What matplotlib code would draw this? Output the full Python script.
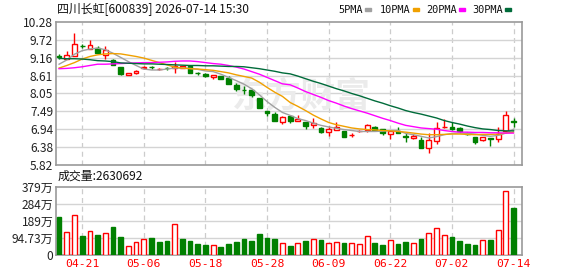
import numpy as np
import matplotlib
matplotlib.use("Agg")
import matplotlib.pyplot as plt

plt.rcParams['font.family'] = ['Noto Sans CJK SC', 'DejaVu Sans']

# ---- data ----
dates = ["04-21", "05-06", "05-18", "05-28", "06-09", "06-22", "07-02", "07-14"]
date_idx = [3, 11, 19, 27, 35, 43, 51, 59]

opens = [9.20, 9.12, 9.23, 9.54, 9.44, 9.47, 9.26, 9.08, 8.88, 8.64,
         8.70, 8.85, 8.87, 8.80, 8.85, 8.83, 8.84, 8.91, 8.69, 8.66,
         8.56, 8.60, 8.54, 8.32, 8.17, 8.16, 7.91, 7.52, 7.41, 7.17,
         7.34, 7.21, 7.17, 7.06, 6.99, 6.84, 6.93, 6.89, 6.76, 6.88,
         6.92, 7.01, 6.95, 6.79, 6.87, 6.74, 6.68, 6.62, 6.36, 6.59,
         7.00, 7.02, 6.99, 6.81, 6.71, 6.60, 6.65, 6.64, 6.90, 7.20]
closes = [9.19, 9.25, 9.58, 9.52, 9.56, 9.32, 9.39, 8.93, 8.66, 8.68,
          8.75, 8.86, 8.86, 8.81, 8.84, 8.91, 8.89, 8.70, 8.68, 8.58,
          8.63, 8.50, 8.34, 8.19, 8.15, 7.99, 7.60, 7.45, 7.21, 7.33,
          7.21, 7.27, 7.04, 7.13, 6.84, 6.95, 7.01, 6.70, 6.77, 6.89,
          7.08, 6.93, 6.82, 6.88, 6.82, 6.70, 6.74, 6.36, 6.60, 6.97,
          7.01, 6.95, 6.89, 6.80, 6.55, 6.70, 6.64, 6.79, 7.37, 7.18]
highs = [9.27, 9.37, 9.92, 9.59, 9.70, 9.53, 9.53, 9.11, 8.88, 8.70,
         8.79, 8.90, 8.91, 8.84, 8.88, 9.04, 8.90, 8.93, 8.72, 8.68,
         8.64, 8.60, 8.60, 8.37, 8.27, 8.16, 7.91, 7.52, 7.46, 7.36,
         7.39, 7.39, 7.18, 7.29, 7.00, 7.03, 7.15, 6.89, 6.81, 6.93,
         7.11, 7.03, 6.96, 6.88, 7.01, 6.82, 6.78, 6.70, 6.82, 7.15,
         7.26, 7.15, 7.01, 6.85, 6.71, 6.71, 6.66, 7.01, 7.51, 7.29]
lows = [9.12, 9.12, 9.22, 9.46, 9.44, 9.32, 9.12, 8.93, 8.63, 8.62,
        8.67, 8.82, 8.80, 8.77, 8.77, 8.68, 8.83, 8.69, 8.64, 8.57,
        8.50, 8.50, 8.34, 8.13, 8.04, 7.94, 7.60, 7.34, 7.21, 7.10,
        7.12, 7.21, 6.96, 6.98, 6.81, 6.72, 6.91, 6.70, 6.70, 6.85,
        6.84, 6.91, 6.77, 6.64, 6.81, 6.55, 6.65, 6.36, 6.21, 6.49,
        6.98, 6.93, 6.82, 6.75, 6.49, 6.59, 6.42, 6.53, 6.88, 7.01]

ma5 = [8.96, 9.09, 9.27, 9.38, 9.43, 9.46, 9.41, 9.30, 9.17, 9.04,
       8.92, 8.81, 8.78, 8.78, 8.81, 8.84, 8.84, 8.83, 8.80, 8.75,
       8.73, 8.65, 8.55, 8.45, 8.34, 8.20, 8.01, 7.80, 7.62, 7.46,
       7.37, 7.27, 7.21, 7.13, 7.06, 7.01, 6.97, 6.93, 6.90, 6.87,
       6.87, 6.87, 6.88, 6.90, 6.90, 6.81, 6.77, 6.72, 6.67, 6.71,
       6.77, 6.81, 6.82, 6.81, 6.79, 6.75, 6.72, 6.75, 6.82, 6.94]
ma10 = [8.84, 8.92, 9.01, 9.12, 9.20, 9.25, 9.28, 9.29, 9.28, 9.24,
        9.20, 9.15, 9.08, 9.01, 8.94, 8.87, 8.84, 8.82, 8.81, 8.79,
        8.77, 8.73, 8.69, 8.63, 8.58, 8.53, 8.40, 8.24, 8.09, 7.96,
        7.77, 7.65, 7.52, 7.38, 7.26, 7.15, 7.08, 7.03, 6.98, 6.95,
        6.93, 6.92, 6.90, 6.89, 6.87, 6.85, 6.82, 6.79, 6.77, 6.77,
        6.78, 6.79, 6.79, 6.78, 6.77, 6.78, 6.78, 6.79, 6.82, 6.85]
ma20 = [8.82, 8.83, 8.85, 8.88, 8.92, 8.96, 8.96, 8.97, 8.98, 8.99,
        9.00, 9.01, 9.01, 9.02, 9.03, 9.05, 9.06, 9.06, 9.04, 9.01,
        8.98, 8.96, 8.92, 8.87, 8.81, 8.73, 8.65, 8.55, 8.45, 8.35,
        8.32, 8.22, 8.11, 8.02, 7.93, 7.83, 7.75, 7.66, 7.58, 7.51,
        7.44, 7.36, 7.28, 7.21, 7.13, 7.06, 7.02, 6.98, 6.96, 6.94,
        6.90, 6.87, 6.85, 6.85, 6.84, 6.84, 6.83, 6.83, 6.82, 6.82]
ma30 = [9.14, 9.13, 9.13, 9.12, 9.10, 9.07, 9.06, 9.04, 9.00, 8.99,
        8.98, 8.97, 8.97, 8.96, 8.95, 8.94, 8.93, 8.92, 8.92, 8.91,
        8.91, 8.90, 8.89, 8.89, 8.88, 8.85, 8.82, 8.78, 8.74, 8.69,
        8.66, 8.59, 8.51, 8.43, 8.36, 8.28, 8.20, 8.13, 8.05, 7.98,
        7.90, 7.82, 7.75, 7.67, 7.60, 7.52, 7.46, 7.41, 7.35, 7.29,
        7.21, 7.15, 7.10, 7.04, 6.99, 6.95, 6.93, 6.90, 6.89, 6.89]

# volume in 万 (10k shares); colour follows close vs previous close
volume = [212, 128, 222, 105, 133, 111, 122, 155, 100, 50,
          72, 89, 94, 74, 79, 172, 89, 79, 63, 55,
          55, 44, 63, 74, 89, 79, 116, 96, 89, 65,
          50, 67, 79, 89, 83, 67, 72, 67, 67, 61,
          105, 67, 55, 83, 61, 72, 67, 89, 122, 150,
          109, 100, 78, 61, 55, 83, 83, 139, 353, 263.07]
vol_up = "GRRGRGRGGRRRGGGRGGGGRGGGGGGGGRGRGRGRRGRRRGGRGGRGRRRGGGGRGRRG"

price_ticks = [5.82, 6.3775, 6.935, 7.4925, 8.05, 8.6075, 9.165, 9.7225, 10.28]
price_labels = ["5.82", "6.38", "6.94", "7.49", "8.05", "8.61", "9.16", "9.72", "10.28"]
vol_ticks = [0, 94.73, 189.46, 284.19, 378.92]
vol_labels = ["0", "94.73万", "189万", "284万", "379万"]

RED = "#ff0000"
GREEN = "#008000"
ma_colors = {"5PMA": "#a0a0a0", "10PMA": "#f0a000", "20PMA": "#ff00ff", "30PMA": "#006b3a"}

x = np.arange(len(closes))
o = np.array(opens); c = np.array(closes); h = np.array(highs); l = np.array(lows)
up = c >= o

fig = plt.figure(figsize=(5.78, 2.76), dpi=100)
ax = fig.add_axes([56/578, 1-165.3/276, 466/578, 143.6/276])
axv = fig.add_axes([56/578, 1-255/276, 466/578, 68.3/276])

for a in (ax, axv):
    a.set_xlim(-0.4, 60.1)
    for s in a.spines.values():
        s.set_color("#999999")
        s.set_linewidth(1.2)
    for d in date_idx:
        a.axvline(d, color="#cccccc", lw=0.9, ls=(0, (4, 3)), zorder=0)
    a.tick_params(length=0, labelsize=8.6, colors="#222222", pad=2)

# price panel
ax.set_ylim(5.82, 10.28)
ax.set_yticks(price_ticks)
ax.set_yticklabels(price_labels)
ax.set_xticks([])
for t in price_ticks[1:-1]:
    ax.axhline(t, color="#d4d4d4", lw=1, zorder=0)

ax.text(31.5, 7.97, "东方财富", fontsize=25, fontweight="bold", color="#ebebeb",
        ha="center", va="center", zorder=0)

body_bottom = np.minimum(o, c)
body_h = np.maximum(np.abs(c - o), 0.015)
ax.vlines(x[up], l[up], h[up], color=RED, lw=1, zorder=2)
ax.vlines(x[~up], l[~up], h[~up], color=GREEN, lw=1, zorder=2)
ax.bar(x[up], body_h[up], 0.62, body_bottom[up], facecolor="white",
       edgecolor=RED, lw=1, zorder=3)
ax.bar(x[~up], body_h[~up], 0.62, body_bottom[~up], facecolor=GREEN,
       edgecolor=GREEN, lw=1, zorder=3)

for name, vals in zip(ma_colors, [ma5, ma10, ma20, ma30]):
    ax.plot(x, vals, color=ma_colors[name], lw=1, zorder=4)

# volume panel
axv.set_ylim(0, 378.92)
axv.set_yticks(vol_ticks)
axv.set_yticklabels(vol_labels)
for t in vol_ticks[1:-1]:
    axv.axhline(t, color="#d4d4d4", lw=1, zorder=0)
vu = np.array([ch == "R" for ch in vol_up])
vol = np.array(volume)
axv.bar(x[vu], vol[vu], 0.62, facecolor="white", edgecolor=RED, lw=1, zorder=3)
axv.bar(x[~vu], vol[~vu], 0.62, facecolor=GREEN, edgecolor=GREEN, lw=1, zorder=3)
axv.set_xticks(date_idx)
axv.set_xticklabels(dates, color=RED, fontsize=8.2, family="DejaVu Sans Mono")
axv.tick_params(axis="x", colors=RED, pad=3)

# texts
fig.text(57/578, 1-10/276, "四川长虹[600839] 2026-07-14 15:30", fontsize=8.6,
         va="center", ha="left", color="#111111")
fig.text(58/578, 1-176/276, "成交量:2630692", fontsize=8.6, va="center",
         ha="left", color="#111111")
text_x = [338, 380, 426, 472]
box_x = [365, 413, 459, 505]
for (name, col), tx, bx in zip(ma_colors.items(), text_x, box_x):
    fig.text(tx/578, 1-10/276, name, fontsize=7.4, va="center", ha="left",
             color="#111111", family="DejaVu Sans Mono")
    fig.patches.append(plt.Rectangle((bx/578, 1-11/276), 6/578, 3/276,
                                     transform=fig.transFigure, color=col))

fig.savefig("out.png", dpi=100, facecolor="white")
